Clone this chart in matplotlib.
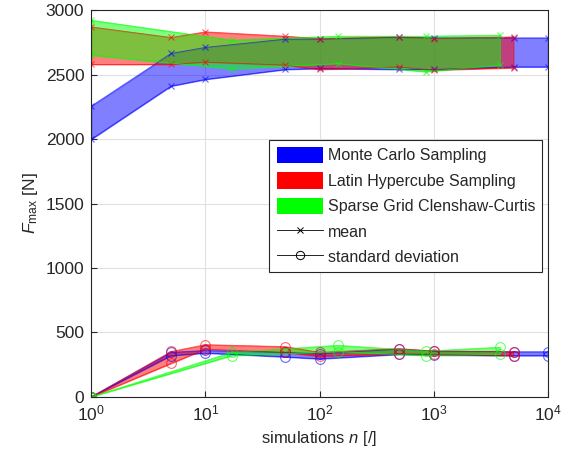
import matplotlib
matplotlib.use('Agg')
import matplotlib.pyplot as plt
from matplotlib.patches import Patch
from matplotlib.lines import Line2D

plt.rcParams['font.family'] = ['Liberation Sans', 'DejaVu Sans']
plt.rcParams['mathtext.fontset'] = 'custom'
plt.rcParams['mathtext.rm'] = 'Liberation Sans'
plt.rcParams['mathtext.it'] = 'Liberation Sans:italic'

# sample counts
n_mc = [1, 5, 10, 50, 100, 500, 1000, 5000, 10000]
n_lhs = [1, 5, 10, 50, 100, 500, 1000, 5000]
n_sg = [1, 17, 145, 850, 3800]

# mean bands (upper / lower) in N
mc_mean_hi = [2256, 2664, 2711, 2775, 2775, 2790, 2785, 2785, 2785]
mc_mean_lo = [1998, 2411, 2463, 2540, 2548, 2540, 2540, 2560, 2560]
lhs_mean_hi = [2870, 2788, 2832, 2798, 2780, 2793, 2780, 2793]
lhs_mean_lo = [2579, 2579, 2597, 2574, 2540, 2560, 2535, 2553]
sg_mean_hi = [2922, 2767, 2798, 2798, 2806]
sg_mean_lo = [2651, 2545, 2586, 2522, 2574]

# standard deviation bands (upper / lower) in N
mc_std_hi = [0, 345, 360, 345, 335, 370, 355, 350, 350]
mc_std_lo = [0, 320, 340, 310, 295, 330, 325, 320, 320]
lhs_std_hi = [0, 352, 405, 390, 345, 375, 355, 350]
lhs_std_lo = [0, 260, 370, 345, 315, 335, 330, 320]
sg_std_hi = [0, 345, 400, 355, 385]
sg_std_lo = [0, 320, 350, 320, 330]

methods = [
    ('Monte Carlo Sampling', 'b', n_mc, mc_mean_hi, mc_mean_lo, mc_std_hi, mc_std_lo),
    ('Latin Hypercube Sampling', 'r', n_lhs, lhs_mean_hi, lhs_mean_lo, lhs_std_hi, lhs_std_lo),
    ('Sparse Grid Clenshaw-Curtis', (0, 1, 0), n_sg, sg_mean_hi, sg_mean_lo, sg_std_hi, sg_std_lo),
]

fig = plt.figure(figsize=(5.81, 4.62), dpi=100)
ax = fig.add_axes([0.157, 0.141, 0.786, 0.837])

for name, c, n, mhi, mlo, shi, slo in methods:
    ax.fill_between(n, mlo, mhi, color=c, alpha=0.5, lw=0.8, edgecolor=c)
    ax.fill_between(n, slo, shi, color=c, alpha=0.5, lw=0.8, edgecolor=c)
    for vals in (mhi, mlo):
        ax.plot(n, vals, color=c, lw=0.6, marker='x', ms=5, mew=0.8, alpha=0.6)
    for vals in (shi, slo):
        ax.plot(n, vals, color=c, lw=0.6, marker='o', ms=7, mfc='none', mew=0.8, alpha=0.6)

ax.set_xscale('log')
ax.set_xlim(1, 1e4)
ax.set_ylim(0, 3000)
ax.set_yticks(range(0, 3001, 500))
ax.set_xticks([1, 10, 100, 1000, 10000])
ax.minorticks_off()
ax.grid(True, color='#e0e0e0', lw=0.8)
ax.set_axisbelow(True)
ax.tick_params(direction='in', labelsize=12.5, length=4, color='#262626', labelcolor='#262626', pad=5)
for s in ax.spines.values():
    s.set_color('#262626')
    s.set_linewidth(0.8)
ax.set_xlabel('simulations $n$ [/]', fontsize=12, color='#262626')
ax.set_ylabel('$F_{\\mathrm{max}}$ [N]', fontsize=12.5, color='#262626')

handles = [Patch(facecolor='b', edgecolor='none', label='Monte Carlo Sampling'),
           Patch(facecolor='r', edgecolor='none', label='Latin Hypercube Sampling'),
           Patch(facecolor=(0, 1, 0), edgecolor='none', label='Sparse Grid Clenshaw-Curtis'),
           Line2D([], [], color='k', lw=0.6, marker='x', ms=4, mew=0.7, label='mean'),
           Line2D([], [], color='k', lw=0.6, marker='o', ms=6, mfc='none', mew=0.7, label='standard deviation')]
leg = ax.legend(handles=handles, loc='upper left', bbox_to_anchor=(0.39, 0.665),
                fontsize=11.5, fancybox=False, framealpha=1, edgecolor='#262626',
                handlelength=2.9, handleheight=1.2, handletextpad=0.3,
                borderpad=0.45, labelspacing=0.55, borderaxespad=0)
leg.get_frame().set_linewidth(0.8)
for t in leg.get_texts():
    t.set_color('#262626')

fig.savefig('out.png', dpi=100)
